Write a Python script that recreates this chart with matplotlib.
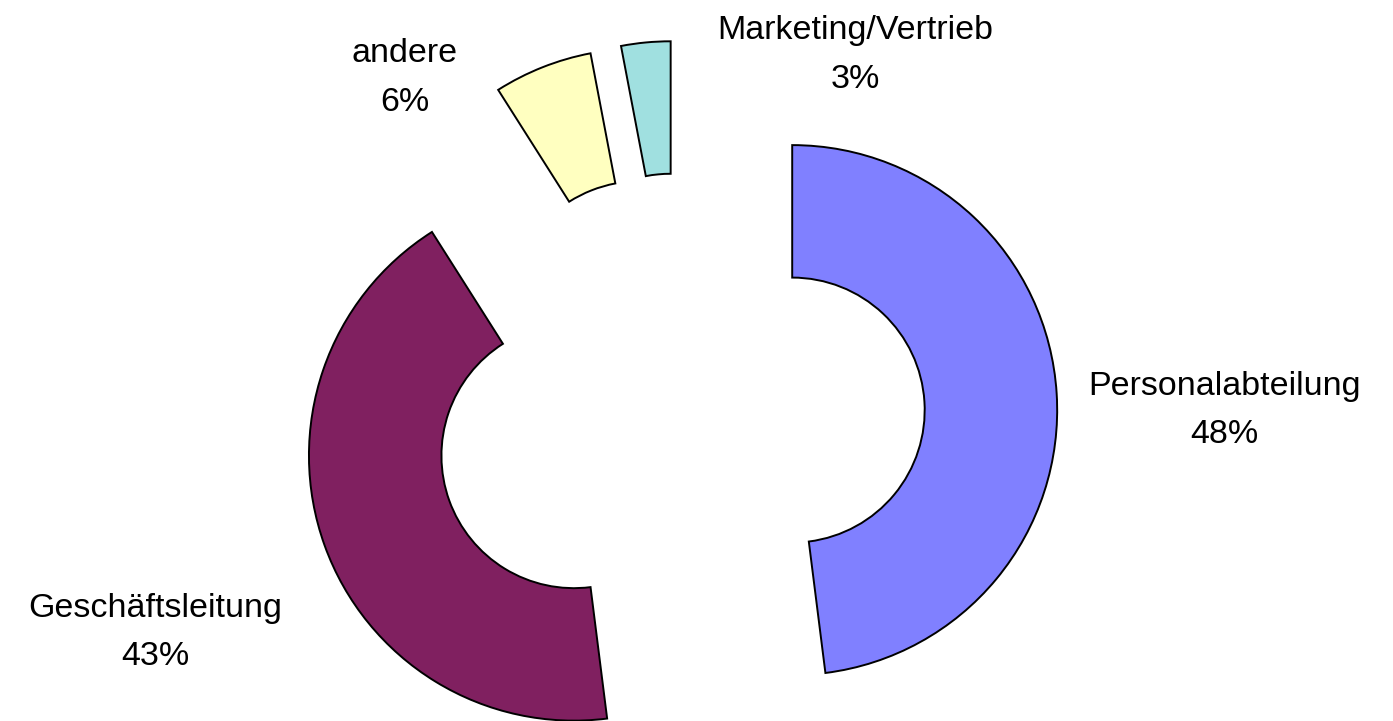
import matplotlib.pyplot as plt

plt.rcParams['font.family'] = ['Liberation Sans', 'DejaVu Sans']

# data
categories = ['Personalabteilung', 'Geschäftsleitung', 'andere', 'Marketing/Vertrieb']
shares = [48, 43, 6, 3]
colors = ['#8080FF', '#802060', '#FFFFC0', '#A0E0E0']

# explode distances and label positions in data units (radius = 1)
explode = [0.42, 0.43, 0.42, 0.42]
label_pos = [(2.052, 0.026), (-1.985, -0.812), (-1.042, 1.280), (0.656, 1.366)]

fig = plt.figure(figsize=(13.93, 7.21), dpi=100)
ax = fig.add_axes([0, 0, 1, 1])

wedges, texts = ax.pie(shares, labels=categories, colors=colors,
                       startangle=90, counterclock=False,
                       explode=explode, radius=1.0,
                       wedgeprops=dict(width=0.50, edgecolor='black', linewidth=1.4))

for t, name, val, pos in zip(texts, categories, shares, label_pos):
    t.set_text(f'{name}\n{val}%')
    t.set_position(pos)
    t.set_ha('center')
    t.set_va('center')
    t.set_fontsize(24.5)
    t.set_linespacing(1.72)

ax.set_aspect('equal')
ax.set_xlim(-2.570, 2.686)
ax.set_ylim(-1.147, 1.574)
ax.axis('off')

fig.savefig('out.png', dpi=100, facecolor='white')
